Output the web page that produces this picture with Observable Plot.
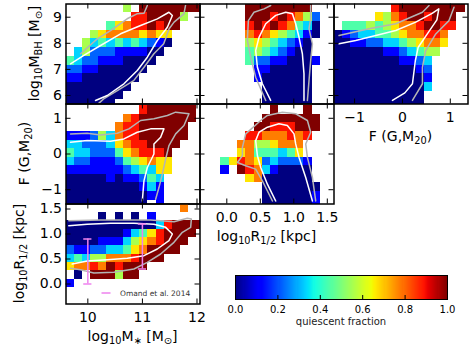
<!DOCTYPE html>
<html><head><meta charset="utf-8">
<script src="https://cdn.jsdelivr.net/npm/d3@7"></script>
<script src="https://cdn.jsdelivr.net/npm/@observablehq/plot@0.6"></script>
<style>
body{margin:0;background:#fff;}
#chart{position:relative;width:471px;height:353px;overflow:hidden;font-family:"DejaVu Sans";}
#chart svg{position:absolute;left:0;top:0;}
text{white-space:pre;}
</style></head><body><div id="chart"></div>
<script>
// ---------------- data ----------------
// bin layouts of the 2D histograms (value grids: '.' = empty, digit d = quiescent fraction d/9)
const MSTAR_BINS = {start: 9.6, step: 0.15};
const MBH_BINS = {top: 9.5, step: 1/3};
const R_X_BINS = {start: -0.462, step: 0.124};
const R_Y_BINS = {top: 1.6, step: 1/6};
const F_X_BINS = {start: -1.425, step: 0.171};
const F_Y_BINS = {top: 1.59, step: 0.24};

const gridMstarMbh = [
".......5.99999999",
"........8899995..",
".....467889899...",
"...5677776766....",
"..53434343210....",
".35222111100.....",
"43221110000......",
"2211000000.......",
"110000000........",
"00000000.........",
"0000000..........",
"000000..........."
];
const gridRMbh = [
"......99999999....",
"......999898752...",
"......898987430...",
"......787654310...",
"......56543210....",
"......45432100....",
"......422110001...",
".......1100000....",
".......1000000....",
"........000000....",
"........000000....",
"........000000...."
];
const gridFMbh = [
".......899999999.",
".....6578998999..",
".44454567789988..",
"01233445677887...",
"00112233456776...",
"0000001123455....",
"000000001123.....",
"000000000012.....",
"000000000001.....",
"000000000003.....",
"00000000000......",
"00000000000......"
];
const gridMstarF = [
".................",
".........8999999.",
".......789999999.",
"......788999999..",
"111253788999999..",
"33222367889999...",
"4332224678889....",
"3221112456766....",
"1111111234366....",
"000001011243.....",
"000000000131.....",
"000000000011.....",
"0000000000.1....."
];
const gridRF = [
"..................",
".........9...9....",
"........9999999...",
".......99888999...",
"......88777878....",
".....77556777.....",
".....67444346.....",
"...46876232221....",
"...1.987310000....",
"......67000000....",
"........0000000...",
"........0000001...",
"........0000001..."
];
const gridMstarR = [
"..............7..",
"....0.0.0.1......",
"00000000000389999",
"0000000134689999.",
"000011135678999..",
"21122334679999...",
"343557778999.....",
"6778798999.......",
".0.999599........",
"1................",
".................",
"................."
];

// contour lines [x, y]
const contA_white = [[9.683,7.214],[9.927,7.533],[10.233,7.916],[10.6,8.364],[10.967,8.682],[11.273,8.937],[11.486,9.19],[11.549,9.065],[11.457,8.617],[11.273,8.107],[11.09,7.468],[10.906,6.958],[10.661,6.448],[10.356,6.0],[10.141,5.81]];
const contA_grayUp = [[9.866,7.6],[10.172,8.17],[10.416,8.49],[10.72,8.94],[10.9,9.13],[11.03,9.15],[11.09,9.45]];
const contA_grayDn = [[11.79,9.45],[11.76,9.13],[11.58,8.81],[11.49,8.56],[11.39,7.98],[11.21,7.6],[11.03,7.08],[10.84,6.57],[10.54,6.19],[10.29,5.87],[10.2,5.7]];
const contB_white = [[0.655,5.81],[0.531,6.45],[0.457,7.08],[0.431,7.72],[0.481,8.23],[0.581,8.75],[0.73,9.07],[0.88,9.19],[0.979,9.13],[1.028,8.75],[1.078,8.23],[1.128,7.6],[1.152,6.83],[1.152,5.81]];
const contB_grayL = [[0.581,5.81],[0.431,6.7],[0.357,7.47],[0.307,8.11],[0.322,8.87],[0.406,9.19],[0.555,9.32],[0.655,9.45]];
const contB_grayR = [[1.252,9.45],[1.252,8.94],[1.227,8.56],[1.278,7.98],[1.252,7.34],[1.227,6.57],[1.203,5.81]];
const contC_white = [[-1.325,7.98],[-0.976,8.11],[-0.557,8.3],[-0.14,8.49],[0.278,8.81],[0.62,9.15],[0.76,9.32],[0.72,8.9],[0.52,8.36],[0.33,7.85],[0.27,7.34],[0.24,6.9],[0.209,6.45],[0.05,6.1],[-0.209,5.81]];
const contC_grayUp = [[-1.325,8.3],[-0.698,8.56],[-0.14,8.75],[0.418,9.19],[0.556,9.45]];
const contC_grayR = [[1.078,9.38],[0.973,8.87],[0.696,8.36],[0.486,7.72],[0.418,7.08],[0.418,6.45],[0.209,5.81]];
const contD_white = [[9.683,0.327],[9.989,0.375],[10.416,0.355],[10.661,0.423],[10.906,0.609],[11.15,0.704],[11.394,0.704],[11.334,0.468],[11.211,0.282],[11.211,0],[11.09,-0.377],[11.028,-0.752],[10.998,-1.315]];
const contD_gray = [[9.683,0.563],[9.989,0.58],[10.233,0.535],[10.539,0.58],[10.752,0.704],[10.967,0.938],[11.211,0.986],[11.457,1.079],[11.609,1.172],[11.853,1.127],[11.761,0.797],[11.609,0.563],[11.486,0.234],[11.426,-0.141],[11.365,-0.563],[11.303,-0.94],[11.242,-1.268]];
const contE_white = [[0.73,-1.315],[0.606,-0.845],[0.506,-0.377],[0.457,-0.048],[0.431,0.375],[0.481,0.609],[0.606,0.75],[0.779,0.845],[0.904,0.797],[1.003,0.563],[1.028,0.282],[1.078,-0.096],[1.178,-0.659],[1.278,-1.315]];
const contE_gray = [[0.681,-1.315],[0.531,-0.752],[0.431,-0.423],[0.282,-0.33],[0.158,-0.237],[0.233,-0.048],[0.233,0.187],[0.282,0.563],[0.506,0.938],[0.606,1.079],[0.83,1.172],[1.028,1.127],[1.203,0.938],[1.252,0.609],[1.178,0.282],[1.203,-0.096],[1.278,-0.659],[1.327,-1.315]];
const contF_white = [[9.651,1.166],[9.989,1.193],[10.416,1.213],[10.844,1.213],[11.211,1.193],[11.426,1.133],[11.549,1.0],[11.486,0.866],[11.273,0.7],[11.028,0.566],[10.723,0.513],[10.356,0.486],[9.989,0.46],[9.714,0.4]];
const contF_gray = [[9.651,1.266],[10.233,1.28],[11.15,1.28],[11.578,1.246],[11.823,1.313],[11.897,1.3],[11.884,1.133],[11.732,1.033],[11.578,0.833],[11.334,0.6],[11.09,0.433],[10.844,0.3],[10.477,0.233],[10.11,0.22],[9.866,0.286],[9.683,0.313]];

// Omand et al. 2014 error bars (log M*, log R1/2 range)
const omandM = [10, 11];
const omandLo = [0.0, 0.3];
const omandHi = [0.9, 1.2];

const MSTAR_TICKS = [10, 11, 12];
const MBH_TICKS = [6, 7, 8, 9];
const R_TICKS = [0, 0.5, 1.0, 1.5];
const F_TICKS = [-1, 0, 1];
const QF_TICKS = [0, 0.2, 0.4, 0.6, 0.8, 1.0];

// ---------------- helpers ----------------
const jetR = d3.scaleLinear([0,0.35,0.66,0.89,1],[0,0,1,1,0.5]).clamp(true);
const jetG = d3.scaleLinear([0,0.125,0.375,0.64,0.91,1],[0,0,1,1,0,0]).clamp(true);
const jetB = d3.scaleLinear([0,0.11,0.34,0.65,1],[0.5,1,1,0,0]).clamp(true);
const jet = t => d3.rgb(255*jetR(t), 255*jetG(t), 255*jetB(t)).formatHex();
const colorScale = {type: "linear", domain: [0, 1], interpolate: jet};

function cellsFrom(grid, xs, ys) {
  const out = [];
  grid.forEach((row, j) => {
    [...row].forEach((ch, k) => {
      if (ch === ".") return;
      out.push({x1: xs.start + k*xs.step, x2: xs.start + (k+1)*xs.step,
                y1: ys.top - (j+1)*ys.step, y2: ys.top - j*ys.step, q: +ch/9});
    });
  });
  return out;
}
const fmtInt = d => d < 0 ? "\u2212" + (-d) : String(d);
const fmt1 = d => d3.format(".1f")(d).replace("-", "\u2212");
const W0 = 471, H0 = 353;

function panel({cells, white = [], gray = [], xDomain, yDomain, xTicks, yTicks, box, xLab, yLab, xFmt, yFmt, extra = []}) {
  const [x0, y0, x1, y1] = box;
  const W = x1 - x0, H = y1 - y0;
  return Plot.plot({
    width: W0, height: H0,
    marginLeft: x0, marginRight: W0 - x1, marginTop: y0, marginBottom: H0 - y1,
    style: {background: "transparent", fontFamily: "DejaVu Sans", fontSize: "14px", overflow: "visible"},
    x: xLab ? {domain: xDomain, clamp: true, axis: "bottom", ticks: xTicks, tickSize: 0, tickPadding: 8, tickFormat: xFmt, label: null}
            : {domain: xDomain, clamp: true, axis: null},
    y: yLab ? {domain: yDomain, clamp: true, axis: "left", ticks: yTicks, tickSize: 0, tickPadding: 4, tickFormat: yFmt, label: null}
            : {domain: yDomain, clamp: true, axis: null},
    color: colorScale,
    marks: [
      Plot.rect(cells, {x1: "x1", x2: "x2", y1: "y1", y2: "y2", fill: "q", shapeRendering: "crispEdges"}),
      ...gray.map(g => Plot.line(g, {x: d => d[0], y: d => d[1], stroke: "#b4b4b4", strokeWidth: 1.5})),
      ...white.map(g => Plot.line(g, {x: d => d[0], y: d => d[1], stroke: "white", strokeWidth: 1.5})),
      ...extra,
      Plot.frame({stroke: "black", strokeWidth: 1.5}),
      Plot.tickX(xTicks, {x: d => d, insetTop: H - 5, stroke: "black"}),
      Plot.tickX(xTicks, {x: d => d, insetBottom: H - 5, stroke: "black"}),
      Plot.tickY(yTicks, {y: d => d, insetRight: W - 5, stroke: "black"}),
      Plot.tickY(yTicks, {y: d => d, insetLeft: W - 5, stroke: "black"})
    ]
  });
}

const MSTAR_DOM = [9.6, 12.055], MBH_DOM = [5.674, 9.506], R_DOM = [-0.4, 1.6], FY_DOM = [-1.4, 1.4], FX_DOM = [-1.43, 1.37];
const cols = [65.5, 199.5, 333.5, 467.5], rows = [3.5, 103.5, 203.5, 303.5];
const chart = document.getElementById("chart");

chart.append(panel({cells: cellsFrom(gridMstarMbh, MSTAR_BINS, MBH_BINS), white: [contA_white], gray: [contA_grayUp, contA_grayDn],
  xDomain: MSTAR_DOM, yDomain: MBH_DOM, xTicks: MSTAR_TICKS, yTicks: MBH_TICKS, box: [cols[0], rows[0], cols[1], rows[1]], yLab: true, yFmt: fmtInt}));
chart.append(panel({cells: cellsFrom(gridRMbh, R_X_BINS, MBH_BINS), white: [contB_white], gray: [contB_grayL, contB_grayR],
  xDomain: R_DOM, yDomain: MBH_DOM, xTicks: R_TICKS, yTicks: MBH_TICKS, box: [cols[1], rows[0], cols[2], rows[1]]}));
chart.append(panel({cells: cellsFrom(gridFMbh, F_X_BINS, MBH_BINS), white: [contC_white], gray: [contC_grayUp, contC_grayR],
  xDomain: FX_DOM, yDomain: MBH_DOM, xTicks: F_TICKS, yTicks: MBH_TICKS, box: [cols[2], rows[0], cols[3], rows[1]], xLab: true, xFmt: fmtInt}));
chart.append(panel({cells: cellsFrom(gridMstarF, MSTAR_BINS, F_Y_BINS), white: [contD_white], gray: [contD_gray],
  xDomain: MSTAR_DOM, yDomain: FY_DOM, xTicks: MSTAR_TICKS, yTicks: F_TICKS, box: [cols[0], rows[1], cols[1], rows[2]], yLab: true, yFmt: fmtInt}));
chart.append(panel({cells: cellsFrom(gridRF, R_X_BINS, F_Y_BINS), white: [contE_white], gray: [contE_gray],
  xDomain: R_DOM, yDomain: FY_DOM, xTicks: R_TICKS, yTicks: F_TICKS, box: [cols[1], rows[1], cols[2], rows[2]], xLab: true, xFmt: fmt1}));

const omand = omandM.map((m, i) => ({m, lo: omandLo[i], hi: omandHi[i]}));
const pink = "#ee82ee";
chart.append(panel({cells: cellsFrom(gridMstarR, MSTAR_BINS, R_Y_BINS), white: [contF_white], gray: [contF_gray],
  xDomain: MSTAR_DOM, yDomain: R_DOM, xTicks: MSTAR_TICKS, yTicks: R_TICKS, box: [cols[0], rows[2], cols[1], rows[3]],
  xLab: true, xFmt: fmtInt, yLab: true, yFmt: fmt1,
  extra: [
    Plot.ruleX(omand, {x: "m", y1: "lo", y2: "hi", stroke: pink, strokeWidth: 1.5}),
    Plot.ruleY(omand, {y: "hi", x1: d => d.m - 0.075, x2: d => d.m + 0.075, stroke: pink, strokeWidth: 1.5}),
    Plot.ruleY(omand, {y: "lo", x1: d => d.m - 0.075, x2: d => d.m + 0.075, stroke: pink, strokeWidth: 1.5})
  ]}));

// colorbar
const cbBox = [235, 275, 447, 299];
const cbStep = 1/200;
const cbVals = d3.range(0, 1, cbStep);
chart.append(Plot.plot({
  width: W0, height: H0,
  marginLeft: cbBox[0], marginRight: W0 - cbBox[2], marginTop: cbBox[1], marginBottom: H0 - cbBox[3],
  style: {background: "transparent", fontFamily: "DejaVu Sans", fontSize: "10px", overflow: "visible"},
  x: {domain: [0, 1], axis: "bottom", ticks: QF_TICKS, tickSize: 0, tickPadding: 6, tickFormat: fmt1, label: null},
  color: colorScale,
  marks: [
    Plot.rect(cbVals, {x1: d => d, x2: d => d + cbStep, fill: d => d + cbStep/2, shapeRendering: "crispEdges"}),
    Plot.frame({stroke: "black", strokeWidth: 1}),
    Plot.tickX(QF_TICKS.slice(1, -1), {x: d => d, insetTop: (cbBox[3] - cbBox[1]) - 4, stroke: "black"})
  ]
}));

// text overlay
const ov = d3.create("svg").attr("width", W0).attr("height", H0).style("background", "transparent");
function addLabel({x, y, rotate = 0, parts, size = 14}) {
  const t = ov.append("text").attr("transform", `translate(${x},${y}) rotate(${rotate})`)
    .attr("text-anchor", "middle").attr("font-size", size).attr("font-family", "DejaVu Sans").attr("fill", "black");
  let shifted = false;
  for (const [s, sub] of parts) {
    const ts = t.append("tspan").text(s);
    if (sub) { ts.attr("font-size", size * 0.7); if (!shifted) { ts.attr("dy", size * 0.22); shifted = true; } }
    else if (shifted) { ts.attr("dy", -size * 0.22); shifted = false; }
  }
}
addLabel({x: 39, y: 53.5, rotate: -90, parts: [["log"],["10",1],["M"],["BH",1],[" [M"],["\u2299",1],["]"]]});
addLabel({x: 29, y: 153.5, rotate: -90, parts: [["F (G,M"],["20",1],[")"]]});
addLabel({x: 24, y: 253.5, rotate: -90, parts: [["log"],["10",1],["R"],["1/2",1],[" [kpc]"]]});
addLabel({x: 132.5, y: 340.5, parts: [["log"],["10",1],["M"],["\u2217",1],[" [M"],["\u2299",1],["]"]]});
addLabel({x: 266.5, y: 240.5, parts: [["log"],["10",1],["R"],["1/2",1],[" [kpc]"]]});
addLabel({x: 400.5, y: 140.5, parts: [["F (G,M"],["20",1],[")"]]});
ov.append("text").attr("x", 341).attr("y", 325).attr("text-anchor", "middle").attr("font-size", 10)
  .attr("font-family", "DejaVu Sans").attr("fill", "#222").text("quiescent fraction");
// legend for Omand et al.
ov.append("line").attr("x1", 101.5).attr("x2", 110.5).attr("y1", 293).attr("y2", 293).attr("stroke", pink).attr("stroke-width", 1.5);
ov.append("text").attr("x", 120).attr("y", 296).attr("font-size", 7.5).attr("font-family", "DejaVu Sans").attr("fill", "#333").text("Omand et al. 2014");
chart.append(ov.node());
</script></body></html>
